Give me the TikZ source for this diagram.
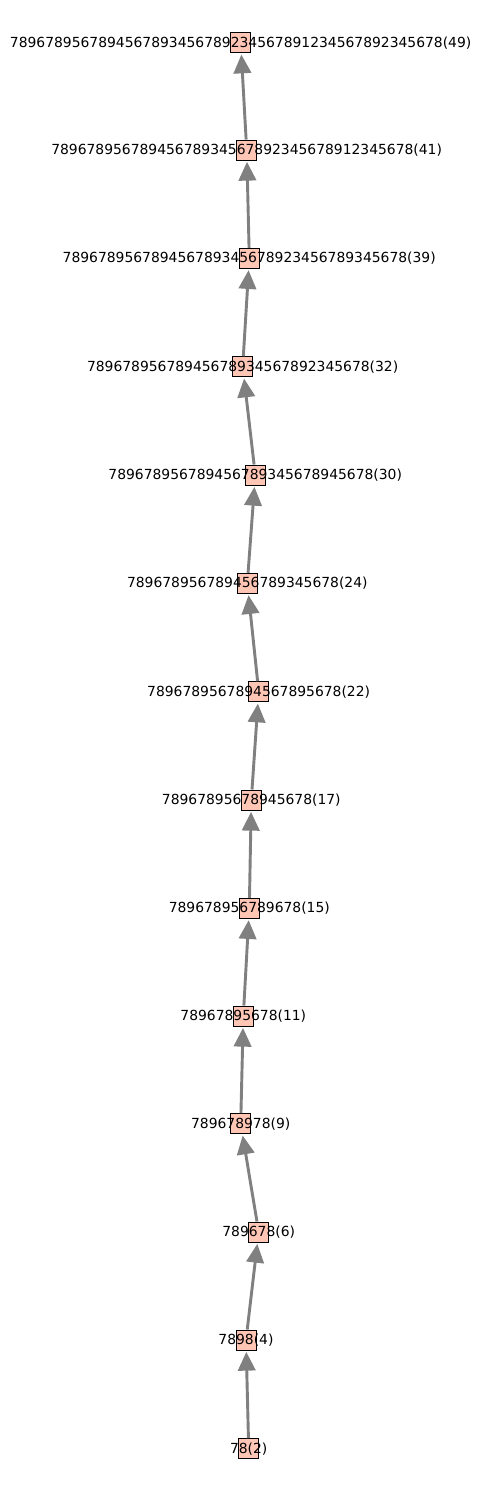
\documentclass[tikz,border=0pt]{standalone}
\usepackage{fontspec}
\setmainfont{DejaVu Sans}
\usetikzlibrary{arrows.meta}

\definecolor{boxfill}{RGB}{255,198,182}

\tikzset{
	vertex/.style = {draw = black, fill = boxfill, line width = 0.7pt, minimum size = 14.4pt, inner sep = 0pt},
	vname/.style = {inner sep = 0pt, font = \fontsize{10pt}{12pt}\selectfont},
	link/.style = {draw = gray, line width = 2.1pt, -{Triangle[length = 13.5pt, width = 12.5pt]}, shorten > = 1pt}
}

\begin{document}
\begin{tikzpicture}[x = 0.72pt, y = -0.72pt]

	\useasboundingbox (0, 0) rectangle (480, 1490);

	% Vertices

	\node [vertex] (v49) at (240.7, 42.7) {};
	\node [vertex] (v41) at (246.7, 150.0) {};
	\node [vertex] (v39) at (249.3, 258.3) {};
	\node [vertex] (v32) at (242.7, 366.7) {};
	\node [vertex] (v30) at (255.3, 475.0) {};
	\node [vertex] (v24) at (247.3, 583.3) {};
	\node [vertex] (v22) at (258.7, 691.7) {};
	\node [vertex] (v17) at (251.3, 800.0) {};
	\node [vertex] (v15) at (249.3, 908.3) {};
	\node [vertex] (v11) at (243.3, 1016.0) {};
	\node [vertex] (v9) at (240.7, 1123.7) {};
	\node [vertex] (v6) at (258.7, 1232.0) {};
	\node [vertex] (v4) at (246.0, 1340.0) {};
	\node [vertex] (v2) at (248.7, 1448.7) {};

	% Links

	\begin{scope}[link]

		\draw (v2) -- (v4);
		\draw (v4) -- (v6);
		\draw (v6) -- (v9);
		\draw (v9) -- (v11);
		\draw (v11) -- (v15);
		\draw (v15) -- (v17);
		\draw (v17) -- (v22);
		\draw (v22) -- (v24);
		\draw (v24) -- (v30);
		\draw (v30) -- (v32);
		\draw (v32) -- (v39);
		\draw (v39) -- (v41);
		\draw (v41) -- (v49);

	\end{scope}

	% Names

	\node [vname] (n49) at (v49) {7896789567894567893456789234567891234567892345678(49)};
	\node [vname] (n41) at (v41) {78967895678945678934567892345678912345678(41)};
	\node [vname] (n39) at (v39) {789678956789456789345678923456789345678(39)};
	\node [vname] (n32) at (v32) {78967895678945678934567892345678(32)};
	\node [vname] (n30) at (v30) {789678956789456789345678945678(30)};
	\node [vname] (n24) at (v24) {789678956789456789345678(24)};
	\node [vname] (n22) at (v22) {7896789567894567895678(22)};
	\node [vname] (n17) at (v17) {78967895678945678(17)};
	\node [vname] (n15) at (v15) {789678956789678(15)};
	\node [vname] (n11) at (v11) {78967895678(11)};
	\node [vname] (n9) at (v9) {789678978(9)};
	\node [vname] (n6) at (v6) {789678(6)};
	\node [vname] (n4) at (v4) {7898(4)};
	\node [vname] (n2) at (v2) {78(2)};

\end{tikzpicture}
\end{document}
